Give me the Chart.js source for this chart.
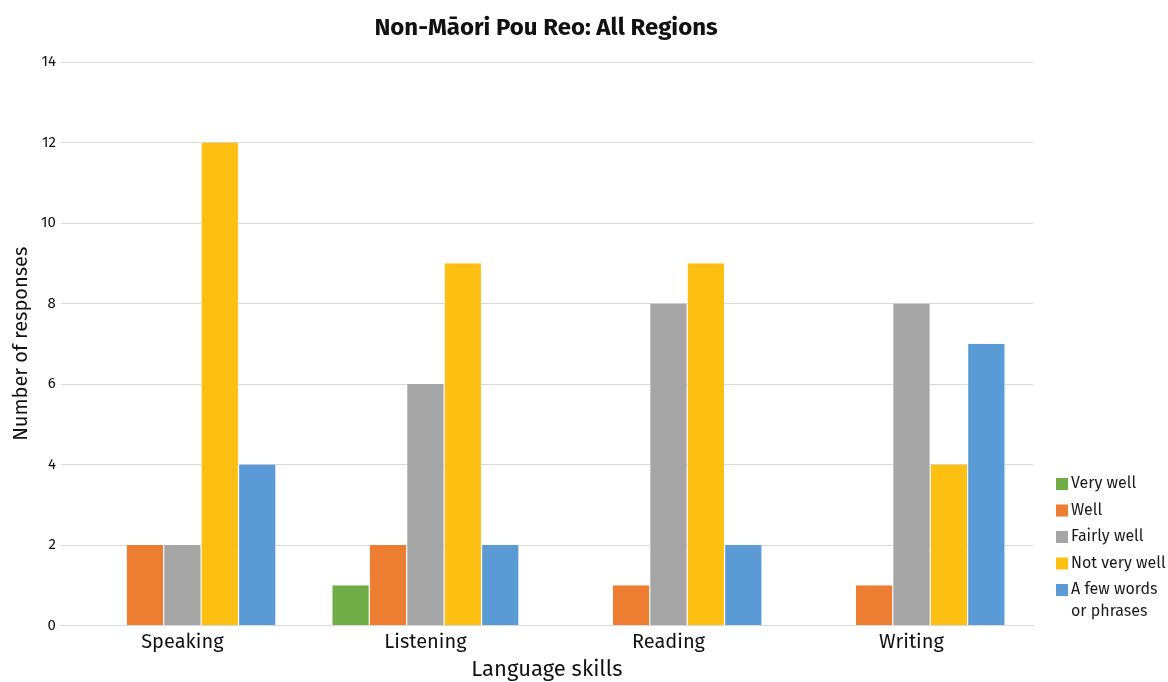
<!DOCTYPE html>
<html>
<head>
<meta charset="utf-8">
<script src="https://cdn.jsdelivr.net/npm/chart.js@4.4.0/dist/chart.umd.min.js"></script>
<style>
  html, body { margin: 0; padding: 0; background: #fff; }
  #wrap { width: 1168px; height: 682px; position: relative; }
</style>
</head>
<body>
<div id="wrap"><canvas id="c" width="1168" height="682"></canvas></div>
<script>
const categories = ['Speaking', 'Listening', 'Reading', 'Writing'];
const seriesNames = ['Very well', 'Well', 'Fairly well', 'Not very well', 'A few words or phrases'];
const veryWell = [0, 1, 0, 0];
const well = [2, 2, 1, 1];
const fairlyWell = [2, 6, 8, 8];
const notVeryWell = [12, 9, 9, 4];
const fewWords = [4, 2, 2, 7];
const legendLines = [['Very well'], ['Well'], ['Fairly well'], ['Not very well'], ['A few words', 'or phrases']];
const colors = ['#70AD47', '#ED7D31', '#A5A5A5', '#FDC012', '#5B9BD5'];
const chartTitle = 'Non-Māori Pou Reo: All Regions';

const FONT = "'Fira Sans', 'Open Sans', 'Noto Sans', sans-serif";

const values = [veryWell, well, fairlyWell, notVeryWell, fewWords];
const datasets = seriesNames.map((name, i) => ({
  label: name,
  data: values[i],
  backgroundColor: colors[i],
  borderColor: '#ffffff',
  borderWidth: { left: 0.6, right: 0.6, top: 0, bottom: 0 },
  categoryPercentage: 0.77,
  barPercentage: 1.0
}));

const sideLegend = {
  id: 'sideLegend',
  afterDraw(chart) {
    const ctx = chart.ctx;
    ctx.save();
    // title
    ctx.font = 'bold 24px ' + FONT;
    ctx.textBaseline = 'middle';
    ctx.textAlign = 'center';
    ctx.fillStyle = '#111';
    ctx.fillText(chartTitle, 546, 28);
    // legend
    ctx.font = '16px ' + FONT;
    ctx.textAlign = 'left';
    let y = 484;
    const x = 1056;
    legendLines.forEach((lines, i) => {
      ctx.fillStyle = colors[i];
      ctx.fillRect(x, y - 6, 12, 12);
      ctx.fillStyle = '#1a1a1a';
      lines.forEach((ln, j) => ctx.fillText(ln, x + 15, y + j * 22));
      y += 26.5;
    });
    ctx.restore();
  }
};

new Chart(document.getElementById('c'), {
  type: 'bar',
  data: { labels: categories, datasets },
  options: {
    responsive: false,
    animation: false,
    layout: { padding: { left: 9, right: 135, top: 62, bottom: 0 } },
    plugins: {
      legend: { display: false },
      tooltip: { enabled: false },
      title: { display: false }
    },
    scales: {
      x: {
        grid: { display: false },
        border: { display: true, color: '#D9D9D9', width: 1 },
        ticks: { color: '#111', font: { family: FONT, size: 20 }, padding: -3 },
        title: { display: true, text: 'Language skills', color: '#111', font: { family: FONT, size: 22 }, padding: { top: 5, bottom: -1 } }
      },
      y: {
        min: 0, max: 14,
        ticks: { stepSize: 2, color: '#111', font: { family: FONT, size: 15 }, padding: 5 },
        grid: { color: '#D9D9D9', drawTicks: false },
        border: { display: false },
        title: { display: true, text: 'Number of responses', color: '#111', font: { family: FONT, size: 20 }, padding: { top: 0, bottom: 3 } }
      }
    }
  },
  plugins: [sideLegend]
});
</script>
</body>
</html>
